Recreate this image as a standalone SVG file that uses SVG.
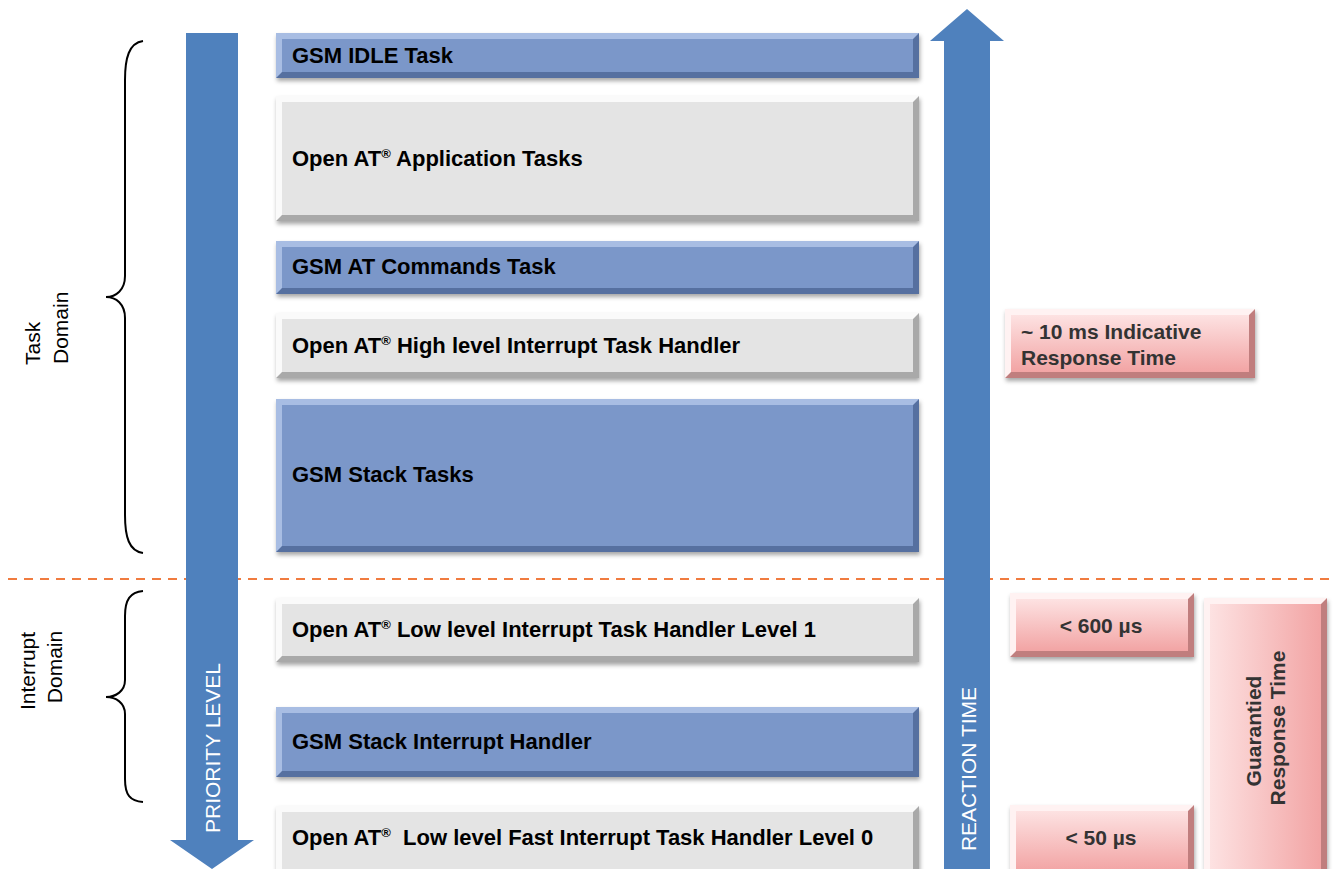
<svg xmlns="http://www.w3.org/2000/svg" width="1334" height="869" viewBox="0 0 1334 869">
<style>
.lbl{font-family:"Liberation Sans",Arial,sans-serif;font-weight:bold;font-size:22px;fill:#000}
.sup{font-size:13px}
.plbl{font-family:"Liberation Sans",Arial,sans-serif;font-weight:bold;font-size:21px;fill:#333}
.side{font-family:"Liberation Sans",Arial,sans-serif;font-size:21px;fill:#000}
.arrtxt{font-family:"Liberation Sans",Arial,sans-serif;font-size:21px;fill:#fff}
.arrow{fill:#4f81bd}
.brace{fill:none;stroke:#000;stroke-width:2}
.dash{stroke:#f07b3f;stroke-width:2;stroke-dasharray:9 7}
.bdark{fill:#566fa0}.blight{fill:#a8bde3}.bface{fill:#7b97c9}
.gdark{fill:#a9a9a9}.glight{fill:#fafafa}.gface{fill:#e4e4e4}
.pdark{fill:#c07e7e}.plight{fill:#fff2f2}
</style>
<defs>
<filter id="sh" x="-5%" y="-20%" width="110%" height="150%">
<feDropShadow dx="1" dy="3" stdDeviation="2" flood-color="#000" flood-opacity="0.35"/>
</filter>
<linearGradient id="pv" x1="0" y1="0" x2="0" y2="1"><stop offset="0" stop-color="#fde2e2"/><stop offset="1" stop-color="#f2a4a4"/></linearGradient>
<linearGradient id="ph" x1="0" y1="0" x2="1" y2="0"><stop offset="0" stop-color="#fde2e2"/><stop offset="1" stop-color="#f2a4a4"/></linearGradient>
</defs>

<line class="dash" x1="8" y1="579" x2="1334" y2="579"/>

<g id="connectors">
<path class="brace" d="M143,41 C129,43 125,58 125,80 L125,276 C125,290 116,297 106,297 C116,297 125,304 125,318 L125,515 C125,537 129,551 143,553"/>
<path class="brace" d="M143,591 C130,592 125,600 125,616 L125,680 C125,691 116,697 106,697 C116,697 125,703 125,714 L125,779 C125,795 130,801 143,802"/>
</g>

<g id="priority-arrow">
<polygon class="arrow" points="186,33 238,33 238,840 254,840 212,869 170,840 186,840"/>
<text class="arrtxt" transform="translate(220,748) rotate(-90)" text-anchor="middle">PRIORITY LEVEL</text>
</g>
<g id="reaction-arrow">
<polygon class="arrow" points="944,875 944,41 930,41 967,9 1004,41 990,41 990,875"/>
<text class="arrtxt" transform="translate(976,769) rotate(-90)" text-anchor="middle">REACTION TIME</text>
</g>

<g id="task-domain"><text class="side" transform="translate(40,365) rotate(-90)">Task</text><text class="side" transform="translate(68,364) rotate(-90)">Domain</text></g>
<g id="interrupt-domain"><text class="side" transform="translate(35,671) rotate(-90)" text-anchor="middle">Interrupt</text><text class="side" transform="translate(62,667) rotate(-90)" text-anchor="middle">Domain</text></g>

<g id="gsm-idle">
<rect class="bdark" x="276" y="33" width="643" height="45" filter="url(#sh)"/>
<polygon class="blight" points="276,33 919,33 913,39 282,39 282,72 276,78"/>
<rect class="bface" x="282" y="39" width="631" height="33"/>
<text class="lbl" x="292" y="63">GSM IDLE Task</text>
</g>
<g id="app-tasks">
<rect class="gdark" x="276" y="96" width="643" height="125" filter="url(#sh)"/>
<polygon class="glight" points="276,96 919,96 913,102 282,102 282,215 276,221"/>
<rect class="gface" x="282" y="102" width="631" height="113"/>
<text class="lbl" x="292" y="166">Open AT<tspan class="sup" dy="-8">®</tspan><tspan dy="8"> Application Tasks</tspan></text>
</g>
<g id="at-commands">
<rect class="bdark" x="276" y="241" width="643" height="53" filter="url(#sh)"/>
<polygon class="blight" points="276,241 919,241 913,247 282,247 282,288 276,294"/>
<rect class="bface" x="282" y="247" width="631" height="41"/>
<text class="lbl" x="292" y="274">GSM AT Commands Task</text>
</g>
<g id="high-level">
<rect class="gdark" x="276" y="313" width="643" height="65" filter="url(#sh)"/>
<polygon class="glight" points="276,313 919,313 913,319 282,319 282,372 276,378"/>
<rect class="gface" x="282" y="319" width="631" height="53"/>
<text class="lbl" x="292" y="353">Open AT<tspan class="sup" dy="-8">®</tspan><tspan dy="8"> High level Interrupt Task Handler</tspan></text>
</g>
<g id="stack-tasks">
<rect class="bdark" x="276" y="399" width="643" height="153" filter="url(#sh)"/>
<polygon class="blight" points="276,399 919,399 913,405 282,405 282,546 276,552"/>
<rect class="bface" x="282" y="405" width="631" height="141"/>
<text class="lbl" x="292" y="482">GSM Stack Tasks</text>
</g>
<g id="low-level-1">
<rect class="gdark" x="276" y="598" width="643" height="64" filter="url(#sh)"/>
<polygon class="glight" points="276,598 919,598 913,604 282,604 282,656 276,662"/>
<rect class="gface" x="282" y="604" width="631" height="52"/>
<text class="lbl" x="292" y="637">Open AT<tspan class="sup" dy="-8">®</tspan><tspan dy="8"> Low level Interrupt Task Handler Level 1</tspan></text>
</g>
<g id="stack-interrupt">
<rect class="bdark" x="276" y="707" width="643" height="70" filter="url(#sh)"/>
<polygon class="blight" points="276,707 919,707 913,713 282,713 282,771 276,777"/>
<rect class="bface" x="282" y="713" width="631" height="58"/>
<text class="lbl" x="292" y="749">GSM Stack Interrupt Handler</text>
</g>
<g id="low-level-0">
<rect class="gdark" x="276" y="806" width="643" height="72" filter="url(#sh)"/>
<polygon class="glight" points="276,806 919,806 913,812 282,812 282,872 276,878"/>
<rect class="gface" x="282" y="812" width="631" height="60"/>
<text class="lbl" x="292" y="845" style="white-space:pre">Open AT<tspan class="sup" dy="-8">®</tspan><tspan dy="8">  Low level Fast Interrupt Task Handler Level 0</tspan></text>
</g>

<g id="indicative">
<rect class="pdark" x="1005" y="309" width="250" height="69" filter="url(#sh)"/>
<polygon class="plight" points="1005,309 1255,309 1249,315 1011,315 1011,372 1005,378"/>
<rect x="1011" y="315" width="238" height="57" fill="url(#pv)"/>
<text class="plbl" x="1021" y="339">~ 10 ms Indicative</text>
<text class="plbl" x="1021" y="365">Response Time</text>
</g>
<g id="lt600">
<rect class="pdark" x="1010" y="593" width="184" height="64" filter="url(#sh)"/>
<polygon class="plight" points="1010,593 1194,593 1188,599 1016,599 1016,651 1010,657"/>
<rect x="1016" y="599" width="172" height="52" fill="url(#pv)"/>
<text class="plbl" x="1101" y="633" text-anchor="middle">&lt; 600 µs</text>
</g>
<g id="lt50">
<rect class="pdark" x="1010" y="805" width="184" height="72" filter="url(#sh)"/>
<polygon class="plight" points="1010,805 1194,805 1188,811 1016,811 1016,871 1010,877"/>
<rect x="1016" y="811" width="172" height="60" fill="url(#pv)"/>
<text class="plbl" x="1101" y="845" text-anchor="middle">&lt; 50 µs</text>
</g>
<g id="guarantied">
<rect class="pdark" x="1204" y="598" width="123" height="280" filter="url(#sh)"/>
<polygon class="plight" points="1204,598 1327,598 1321,604 1210,604 1210,872 1204,878"/>
<rect x="1210" y="604" width="111" height="268" fill="url(#ph)"/>
<text class="plbl" transform="translate(1261,731) rotate(-90)" text-anchor="middle">Guarantied</text>
<text class="plbl" transform="translate(1285,728) rotate(-90)" text-anchor="middle">Response Time</text>
</g>
</svg>
